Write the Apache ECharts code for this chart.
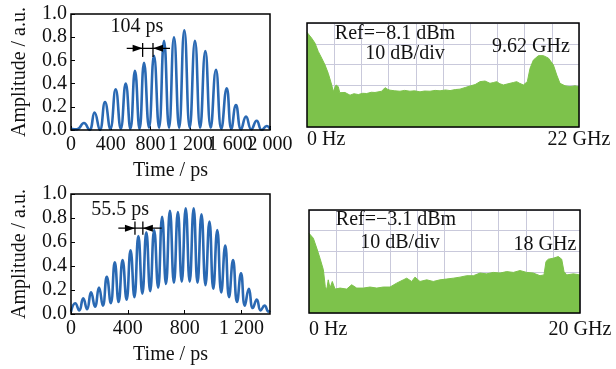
<!DOCTYPE html>
<html><head><meta charset="utf-8">
<script src="https://cdn.jsdelivr.net/npm/echarts@6/dist/echarts.min.js"></script>
<style>html,body{margin:0;padding:0;background:#fff}#c{width:616px;height:369px}</style>
</head><body><div id="c"></div>
<script>
// ---------- data ----------
// top-left: time (ps) / amplitude (a.u.), alternating troughs and peaks
const topTime = [0, 60, 130, 185, 237, 290, 342, 395, 449, 500, 550, 597, 643, 689, 734, 784, 834, 885, 935, 985, 1035, 1087, 1139, 1193, 1246, 1298, 1350, 1404, 1457, 1511, 1565, 1612, 1658, 1709, 1759, 1812, 1866, 1917, 1967, 2000];
const topAmp  = [0.01, 0.005, 0.06, 0.0, 0.15, 0.0, 0.24, 0.01, 0.35, 0.01, 0.40, 0.01, 0.51, 0.01, 0.58, 0.02, 0.64, 0.02, 0.77, 0.02, 0.80, 0.02, 0.86, 0.02, 0.77, 0.02, 0.68, 0.02, 0.52, 0.01, 0.36, 0.01, 0.215, 0.005, 0.115, 0.005, 0.08, 0.0, 0.035, 0.01];
// bottom-left
const botTime = [0, 30, 58, 86, 113, 141, 169, 197, 224, 252, 280, 308, 335, 363, 391, 419, 446, 474, 502, 530, 557, 585, 613, 641, 668, 696, 724, 752, 779, 807, 835, 863, 890, 918, 946, 974, 1001, 1029, 1057, 1085, 1112, 1140, 1168, 1196, 1223, 1251, 1279, 1307, 1334, 1362, 1390, 1400];
const botAmp  = [0.02, 0.09, 0.03, 0.13, 0.04, 0.18, 0.06, 0.22, 0.07, 0.31, 0.09, 0.43, 0.10, 0.45, 0.12, 0.53, 0.14, 0.65, 0.17, 0.68, 0.19, 0.70, 0.22, 0.81, 0.25, 0.86, 0.26, 0.85, 0.27, 0.88, 0.27, 0.88, 0.26, 0.83, 0.24, 0.77, 0.21, 0.70, 0.18, 0.57, 0.14, 0.45, 0.10, 0.34, 0.07, 0.21, 0.05, 0.12, 0.03, 0.07, 0.02, 0.03];
// top-right spectrum: frequency (GHz) / level relative to Ref (dB)
const spec1GHz = [0, 0.38, 0.65, 0.91, 1.19, 1.46, 1.72, 2.0, 2.13, 2.25, 2.35, 2.53, 2.65, 2.81, 3.07, 3.48, 3.8, 4.15, 4.5, 4.83, 5.2, 5.5, 6.04, 6.31, 6.5, 6.71, 7.1, 7.52, 7.9, 8.33, 8.7, 9.14, 9.5, 9.95, 10.36, 10.76, 11.2, 11.57, 12.0, 12.37, 12.8, 13.18, 13.6, 13.99, 14.4, 14.8, 15.1, 15.34, 15.6, 15.88, 16.42, 16.7, 16.96, 17.2, 17.5, 17.82, 18.04, 18.31, 18.72, 19.12, 19.53, 19.93, 20.2, 20.46, 20.87, 21.27, 21.68, 22.0];
const spec1dB  = [-4.5, -7.3, -9.7, -13.7, -16.9, -20.2, -24.2, -29.8, -33.1, -31, -29.8, -30.6, -33.5, -33.9, -33.4, -34.7, -34.0, -34.4, -33.8, -33.9, -33.3, -33.4, -32.8, -31.1, -31.8, -32.3, -32.6, -32.8, -32.4, -32.8, -32.6, -33.1, -32.7, -32.8, -32.4, -32.6, -32.2, -32.5, -32.0, -31.8, -31.0, -30.3, -29.6, -28.2, -27.9, -29.0, -28.6, -28.2, -29.2, -29.8, -29.0, -28.6, -28.2, -29.0, -29.8, -28.2, -21.8, -17.8, -15.7, -15.7, -16.9, -20.2, -25.0, -29.0, -30.2, -30.6, -30.2, -30.6];
// bottom-right spectrum
const spec2GHz = [0, 0.32, 0.57, 0.81, 1.06, 1.2, 1.31, 1.42, 1.55, 1.72, 1.92, 2.29, 2.78, 3.15, 3.52, 4.01, 4.5, 5.0, 5.48, 5.98, 6.47, 6.96, 7.21, 7.58, 7.82, 8.19, 8.69, 9.17, 9.67, 10.16, 10.65, 11.14, 11.64, 12.13, 12.62, 13.11, 13.6, 14.1, 14.59, 15.08, 15.57, 16.07, 16.55, 17.05, 17.34, 17.49, 17.66, 18.03, 18.4, 18.65, 18.82, 19.02, 19.51, 20.0];
const spec2dB  = [-11.3, -13.7, -18.5, -23.4, -29.0, -37.1, -38.7, -33.9, -37.9, -34.7, -38.4, -37.9, -38.4, -36.3, -37.9, -37.9, -37.4, -37.9, -37.4, -37.4, -35.5, -33.9, -33.1, -34.7, -32.6, -34.7, -33.9, -34.7, -33.9, -33.5, -33.1, -32.6, -31.9, -31.9, -30.6, -31.0, -30.3, -30.6, -29.9, -30.3, -29.4, -30.3, -30.6, -31.9, -31.5, -25.0, -23.9, -23.4, -22.6, -23.9, -29.9, -31.5, -31.0, -31.5];
// annotations (data coordinates)
const topMarkBars = [720, 824];
const topMarkLine = [560, 995];
const topMarkY = [0.704, 0.63, 0.75];
const topMarkLabel = ['104 ps', 663, 0.89];
const botMarkBars = [450, 505.5];
const botMarkLine = [333, 638];
const botMarkY = [0.715, 0.66, 0.77];
const botMarkLabel = ['55.5 ps', 345, 0.867];
// spectrum annotations
const spec1Text = ['Ref=\u22128.1 dBm', '10 dB/div', '9.62 GHz'];
const spec2Text = ['Ref=\u22123.1 dBm', '10 dB/div', '18 GHz'];
const spec1Range = ['0 Hz', '22 GHz'];
const spec2Range = ['0 Hz', '20 GHz'];

// ---------- chart ----------
const FONT = 'Liberation Serif';
const BLUE = '#2a69b3';
const GREEN = '#7dc24b';
const GRIDC = '#c9c9db';
const txt = {fontFamily: FONT, fontSize: 20, color: '#111'};
const pairs = (xs, ys) => xs.map((x, i) => [x, ys[i]]);
const thou = v => { const s = String(Math.round(v)); return s.length > 3 ? s.slice(0, -3) + ' ' + s.slice(-3) : s; };
const gridBase = {show: true, borderColor: '#000', borderWidth: 1.5, backgroundColor: 'transparent', z: 10};

const chart = echarts.init(document.getElementById('c'));

// main time axis; "only" limits which tick value gets a label (used to show the
// overlapping last label of the top plot from a twin axis, as in the reference)
function timeX(gi, max, mode) {
  const fmt = v => {
    if (mode === 'last') return v === max ? thou(v) : '';
    if (mode === 'noLast') return v === max ? '' : thou(v);
    return thou(v);
  };
  const ax = {gridIndex: gi, type: 'value', min: 0, max: max, interval: 400, position: 'bottom',
    axisLine: {show: false}, splitLine: {show: false},
    axisTick: {show: mode !== 'last', inside: true, length: 4, lineStyle: {color: '#000', width: 1}},
    axisLabel: Object.assign({}, txt, {margin: 5, formatter: fmt, hideOverlap: false,
      showMinLabel: true, showMaxLabel: mode !== 'plain'})};
  if (mode !== 'last') {
    ax.name = 'Time / ps'; ax.nameLocation = 'middle'; ax.nameGap = 31; ax.nameTextStyle = Object.assign({}, txt);
  }
  return ax;
}
function ampY(gi) {
  return {gridIndex: gi, type: 'value', min: 0, max: 1, interval: 0.2,
    axisLine: {show: false}, splitLine: {show: false},
    axisTick: {inside: true, length: 4, lineStyle: {color: '#000', width: 1}},
    axisLabel: Object.assign({}, txt, {margin: 4, formatter: v => v.toFixed(1)}),
    name: 'Amplitude / a.u.', nameLocation: 'middle', nameGap: 41, nameTextStyle: Object.assign({}, txt)};
}
function freqX(gi, max, labels, margin) {
  return {gridIndex: gi, type: 'value', min: 0, max: max, interval: max / 10,
    axisLine: {show: false}, axisTick: {show: false},
    splitLine: {show: true, lineStyle: {color: GRIDC, width: 1}},
    axisLabel: Object.assign({}, txt, {margin: margin, showMinLabel: true, showMaxLabel: true, hideOverlap: false,
      alignMinLabel: 'left',
      formatter: v => (Math.abs(v) < 1e-6 ? labels[0] : (Math.abs(v - max) < 1e-6 ? labels[1] : ''))})};
}
function dbY(gi) {
  return {gridIndex: gi, type: 'value', min: -50, max: 0, interval: 10,
    axisLine: {show: false}, axisTick: {show: false}, axisLabel: {show: false},
    splitLine: {show: true, lineStyle: {color: GRIDC, width: 1}}};
}

chart.setOption({
  animation: false,
  backgroundColor: '#fff',
  grid: [
    Object.assign({}, gridBase, {left: 71, top: 14, width: 199, height: 116}),
    Object.assign({}, gridBase, {left: 307, top: 23, width: 272, height: 104}),
    Object.assign({}, gridBase, {left: 71, top: 194, width: 199, height: 120}),
    Object.assign({}, gridBase, {left: 309, top: 210, width: 271, height: 103})
  ],
  xAxis: [timeX(0, 2000, 'noLast'), freqX(1, 22, spec1Range, 3), timeX(2, 1400, 'plain'), freqX(3, 20, spec2Range, 7),
          timeX(0, 2000, 'last')],
  yAxis: [ampY(0), dbY(1), ampY(2), dbY(3)],
  series: [
    {type: 'line', xAxisIndex: 0, yAxisIndex: 0, data: pairs(topTime, topAmp), smooth: 0.5,
     showSymbol: false, lineStyle: {color: BLUE, width: 2.6}},
    {type: 'line', xAxisIndex: 1, yAxisIndex: 1, data: pairs(spec1GHz, spec1dB),
     showSymbol: false, lineStyle: {color: GREEN, width: 1}, areaStyle: {color: GREEN, opacity: 1, origin: 'start'}},
    {type: 'line', xAxisIndex: 2, yAxisIndex: 2, data: pairs(botTime, botAmp), smooth: 0.5,
     showSymbol: false, lineStyle: {color: BLUE, width: 2.6}},
    {type: 'line', xAxisIndex: 3, yAxisIndex: 3, data: pairs(spec2GHz, spec2dB),
     showSymbol: false, lineStyle: {color: GREEN, width: 1}, areaStyle: {color: GREEN, opacity: 1, origin: 'start'}}
  ]
});

// annotation graphics placed via the chart's own coordinate conversion
function P(gi, x, y) { return chart.convertToPixel({gridIndex: gi}, [x, y]); }
function measure(gi, bars, line, ys, lab) {
  const els = [];
  const a = P(gi, line[0], ys[0]), b = P(gi, line[1], ys[0]);
  els.push({type: 'line', shape: {x1: a[0], y1: a[1], x2: b[0], y2: b[1]}, style: {stroke: '#000', lineWidth: 1.3}, z: 20});
  bars.forEach(t => {
    const p = P(gi, t, ys[1]), q = P(gi, t, ys[2]);
    els.push({type: 'line', shape: {x1: p[0], y1: p[1], x2: q[0], y2: q[1]}, style: {stroke: '#000', lineWidth: 1.3}, z: 20});
  });
  const l = P(gi, bars[0], ys[0]), r = P(gi, bars[1], ys[0]);
  els.push({type: 'polygon', shape: {points: [[l[0], l[1]], [l[0] - 10, l[1] - 3.5], [l[0] - 10, l[1] + 3.5]]}, style: {fill: '#000'}, z: 20});
  els.push({type: 'polygon', shape: {points: [[r[0], r[1]], [r[0] + 10, r[1] - 3.5], [r[0] + 10, r[1] + 3.5]]}, style: {fill: '#000'}, z: 20});
  const tp = P(gi, lab[1], lab[2]);
  els.push({type: 'text', x: tp[0], y: tp[1], style: {text: lab[0], fontFamily: FONT, fontSize: 20, fill: '#111', align: 'center', verticalAlign: 'middle'}, z: 20});
  return els;
}
function label(text, x, y) {
  return {type: 'text', x: x, y: y, style: {text: text, fontFamily: FONT, fontSize: 20, fill: '#111', align: 'center', verticalAlign: 'middle'}, z: 20};
}
chart.setOption({
  graphic: [].concat(
    measure(0, topMarkBars, topMarkLine, topMarkY, topMarkLabel),
    measure(2, botMarkBars, botMarkLine, botMarkY, botMarkLabel),
    [label(spec1Text[0], 395, 34), label(spec1Text[1], 405, 54), label(spec1Text[2], 531, 47),
     label(spec2Text[0], 396, 220), label(spec2Text[1], 400, 243), label(spec2Text[2], 545, 245)]
  )
});
</script></body></html>
